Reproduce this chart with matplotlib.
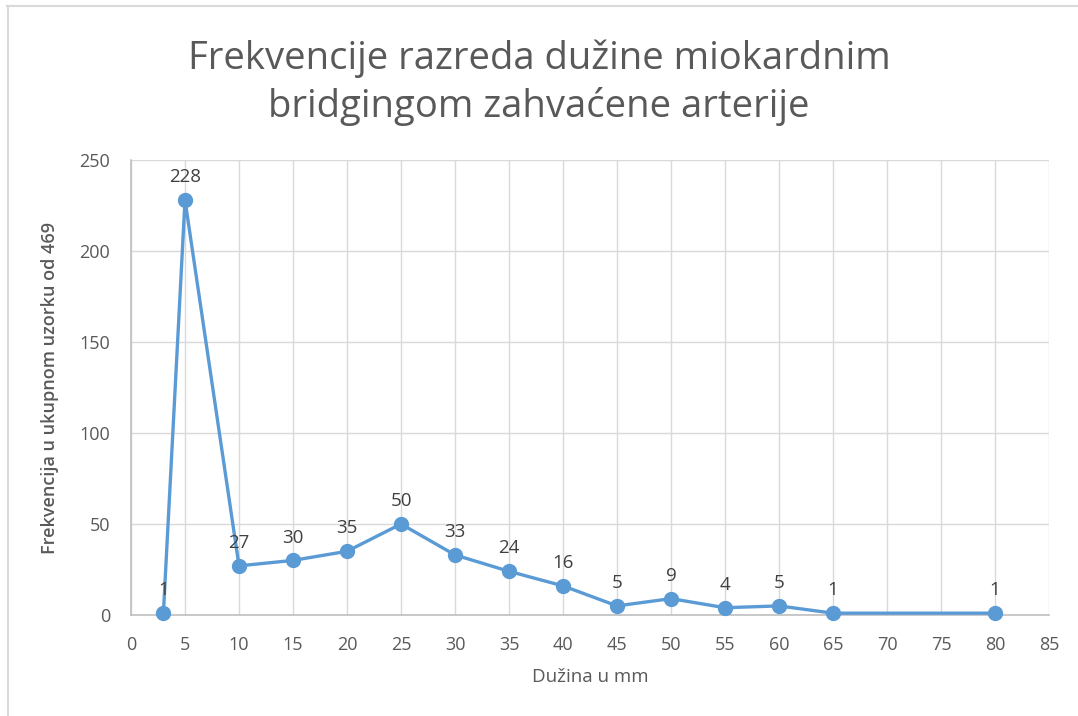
import matplotlib
matplotlib.use("Agg")
import matplotlib.pyplot as plt
from matplotlib.lines import Line2D

# Length classes (mm) and their frequencies
duzina = [3, 5, 10, 15, 20, 25, 30, 35, 40, 45, 50, 55, 60, 65, 80]
frekvencija = [1, 228, 27, 30, 35, 50, 33, 24, 16, 5, 9, 4, 5, 1, 1]

x_ticks = list(range(0, 90, 5))
y_ticks = list(range(0, 300, 50))

title = "Frekvencije razreda dužine miokardnim\nbridgingom zahvaćene arterije"
x_label = "Dužina u mm"
y_label = "Frekvencija u ukupnom uzorku od 469"

plt.rcParams["font.family"] = ["Open Sans", "DejaVu Sans"]

fig = plt.figure(figsize=(10.78, 7.16), dpi=100)
ax = fig.add_axes([131 / 1078, 1 - 615 / 716, (1049 - 131) / 1078, (615 - 160) / 716])

line_color = "#5B9BD5"
ax.plot(duzina, frekvencija, color=line_color, linewidth=2.4,
        marker="o", markersize=10, markerfacecolor=line_color,
        markeredgecolor=line_color, zorder=3, clip_on=False)

for xv, yv in zip(duzina, frekvencija):
    ax.annotate(str(yv), (xv, yv), xytext=(0, 10), textcoords="offset points",
                ha="center", va="bottom", fontsize=13.5, color="#404040")

ax.set_xlim(0, 85)
ax.set_ylim(0, 250)
ax.set_xticks(x_ticks)
ax.set_yticks(y_ticks)
ax.grid(True, color="#d9d9d9", linewidth=1.0, zorder=0)
ax.set_axisbelow(True)
ax.tick_params(length=0, labelsize=13, labelcolor="#595959")
ax.tick_params(axis="x", pad=15)
ax.tick_params(axis="y", pad=15)

for side in ("top", "right"):
    ax.spines[side].set_visible(False)
for side in ("left", "bottom"):
    ax.spines[side].set_color("#bfbfbf")
    ax.spines[side].set_linewidth(1.2)

ax.set_xlabel(x_label, fontsize=13.5, color="#595959", labelpad=10)
ax.set_ylabel(y_label, fontsize=13, color="#595959", fontweight="semibold", labelpad=15)

fig.text(0.5, 1 - 83 / 716, title, ha="center", va="center", fontsize=27.5,
         color="#595959", linespacing=1.3)

# Chart frame lines on the top and left edges
fig.add_artist(Line2D([7 / 1078, 1], [1 - 6 / 716, 1 - 6 / 716],
                      color="#d9d9d9", linewidth=1.5, transform=fig.transFigure))
fig.add_artist(Line2D([8 / 1078, 8 / 1078], [0, 1 - 6 / 716],
                      color="#d9d9d9", linewidth=1.5, transform=fig.transFigure))

fig.savefig("out.png", dpi=100, facecolor="white")
